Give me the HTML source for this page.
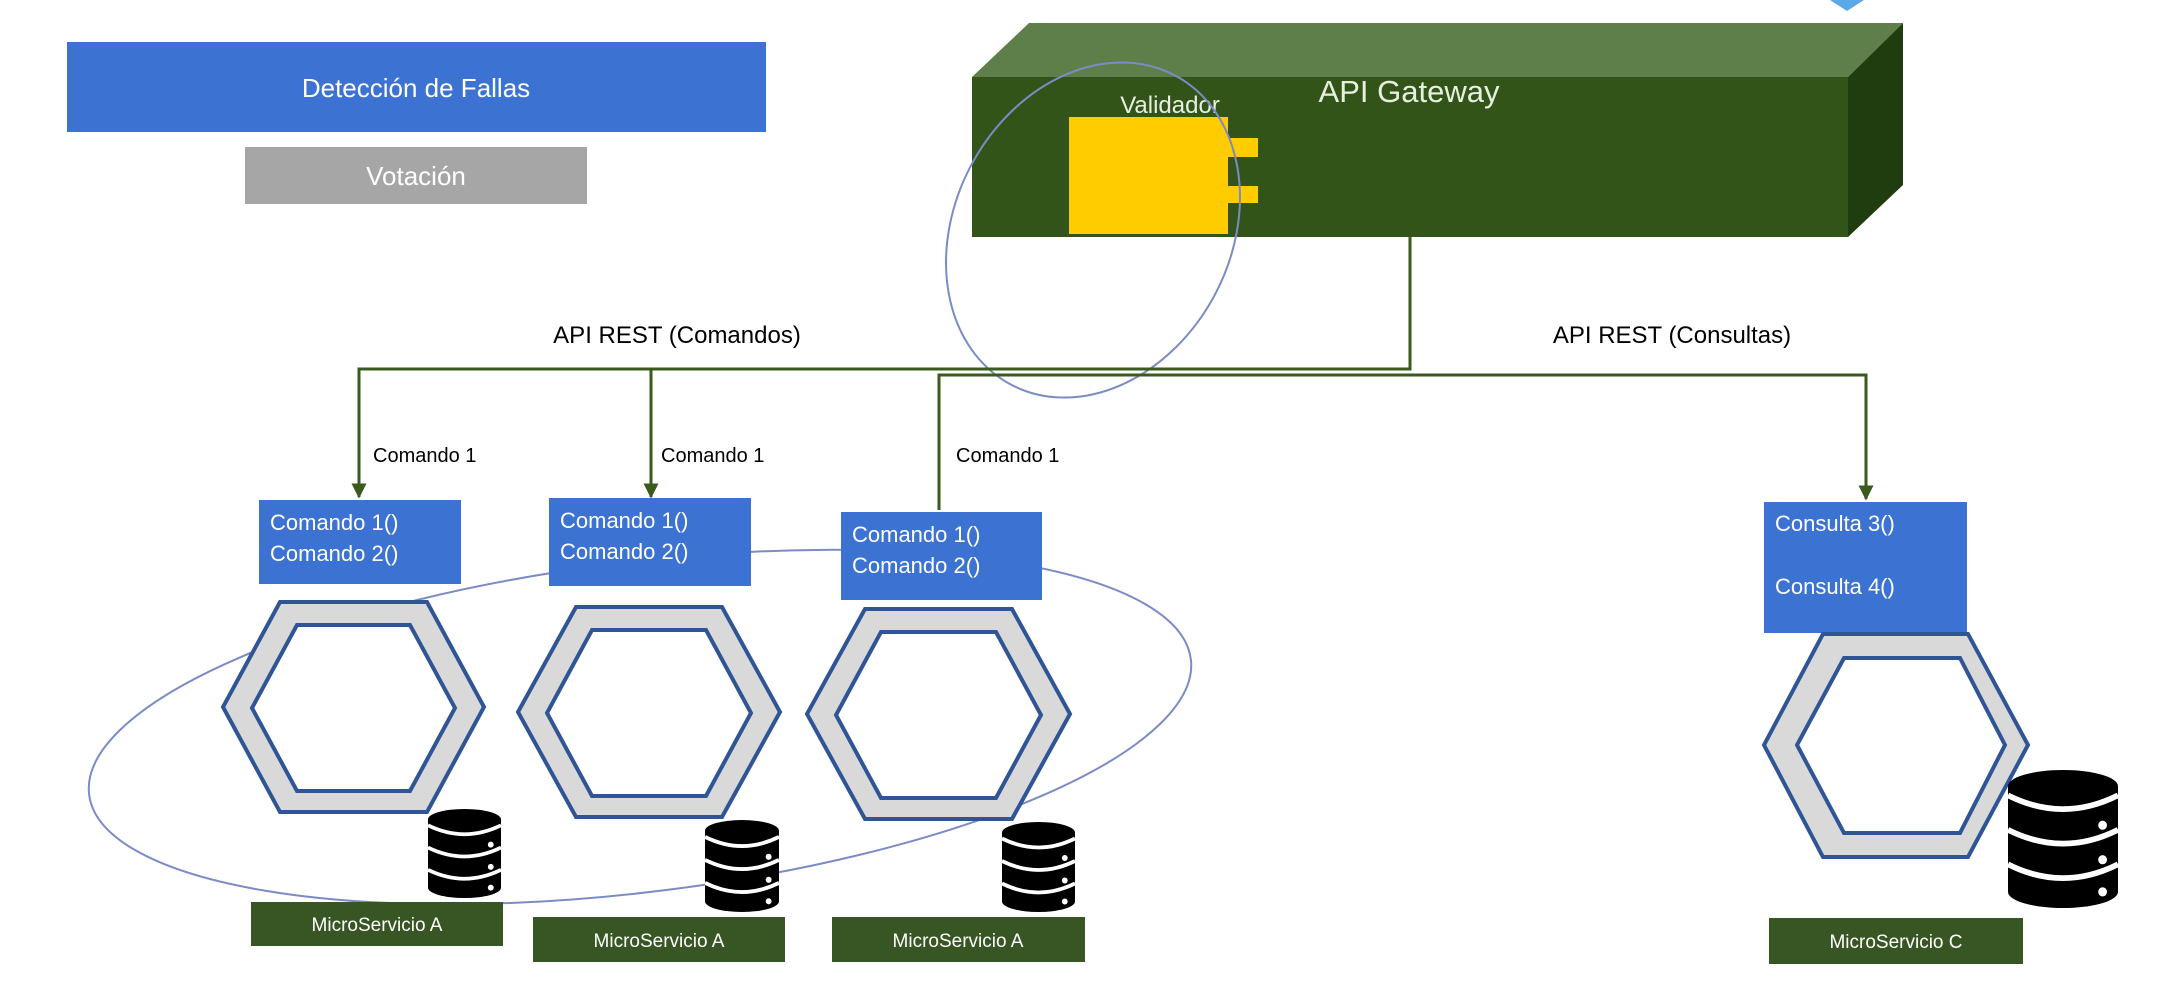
<!DOCTYPE html>
<html><head><meta charset="utf-8"><style>
html,body{margin:0;padding:0;background:#fff;}
svg{display:block;}
text{font-family:"Liberation Sans",sans-serif;}
</style></head><body>
<svg width="2181" height="982" viewBox="0 0 2181 982" xmlns="http://www.w3.org/2000/svg">
<defs>
<symbol id="db" viewBox="0 0 100 120" preserveAspectRatio="none">
<rect x="0" y="14" width="100" height="92" fill="#000"/>
<ellipse cx="50" cy="14" rx="50" ry="14" fill="#000"/>
<ellipse cx="50" cy="106" rx="50" ry="14" fill="#000"/>
<path d="M0 22 Q50 46 100 22" stroke="#fff" stroke-width="5" fill="none"/>
<path d="M0 52 Q50 76 100 52" stroke="#fff" stroke-width="5" fill="none"/>
<path d="M0 82 Q50 106 100 82" stroke="#fff" stroke-width="5" fill="none"/>
<circle cx="86" cy="48" r="4" fill="#fff"/>
<circle cx="86" cy="78" r="4" fill="#fff"/>
<circle cx="86" cy="106" r="4" fill="#fff"/>
</symbol>
<marker id="ar" viewBox="0 0 10 10" refX="9" refY="5" markerWidth="5" markerHeight="5" orient="auto"><path d="M0 0 L10 5 L0 10z" fill="#3a5a1e"/></marker>
</defs>

<rect x="67" y="42" width="699" height="90" fill="#3c73d2"/>
<text x="416" y="97" font-size="26" fill="#fff" text-anchor="middle">Detección de Fallas</text>
<rect x="245" y="147" width="342" height="57" fill="#a6a6a6"/>
<text x="416" y="185" font-size="26" fill="#fff" text-anchor="middle">Votación</text>

<path d="M1830 0 L1864 0 L1847 11z" fill="#5aa9e6"/>

<polygon points="972,77 1029,23 1903,23 1848,77" fill="#5f7f4a"/>
<polygon points="1848,77 1903,23 1903,185 1848,237" fill="#203d10"/>
<rect x="972" y="77" width="876" height="160" fill="#325419"/>
<text x="1409" y="102" font-size="31" fill="#e8efe0" text-anchor="middle">API Gateway</text>
<text x="1170" y="113" font-size="24" fill="#e8efe0" text-anchor="middle">Validador</text>
<rect x="1069" y="117" width="159" height="117" fill="#ffcc00"/>
<rect x="1228" y="138" width="30" height="19" fill="#ffcc00"/>
<rect x="1228" y="186" width="30" height="17" fill="#ffcc00"/>

<ellipse cx="1093" cy="230" rx="175" ry="138" transform="rotate(-62 1093 230)" fill="none" stroke="#7b8cc4" stroke-width="2"/>
<ellipse cx="640" cy="727" rx="555" ry="165" transform="rotate(-7 640 727)" fill="none" stroke="#7b8cc4" stroke-width="2"/>

<g stroke="#3a5a1e" stroke-width="3" fill="none">
<path d="M1410 237 L1410 369 L359 369 L359 497" marker-end="url(#ar)"/>
<path d="M651 369 L651 497" marker-end="url(#ar)"/>
<path d="M939 510 L939 375 L1866 375 L1866 499" marker-end="url(#ar)"/>
</g>
<text x="677" y="343" font-size="24" fill="#000" text-anchor="middle">API REST (Comandos)</text>
<text x="1672" y="343" font-size="24" fill="#000" text-anchor="middle">API REST (Consultas)</text>
<text x="373" y="462" font-size="20" fill="#000">Comando 1</text>
<text x="661" y="462" font-size="20" fill="#000">Comando 1</text>
<text x="956" y="462" font-size="20" fill="#000">Comando 1</text>

<rect x="259" y="500" width="202" height="84" fill="#3c73d2"/>
<text x="270" y="530" font-size="22" fill="#fff">Comando 1()</text>
<text x="270" y="561" font-size="22" fill="#fff">Comando 2()</text>
<rect x="549" y="498" width="202" height="88" fill="#3c73d2"/>
<text x="560" y="528" font-size="22" fill="#fff">Comando 1()</text>
<text x="560" y="559" font-size="22" fill="#fff">Comando 2()</text>
<rect x="841" y="512" width="201" height="88" fill="#3c73d2"/>
<text x="852" y="542" font-size="22" fill="#fff">Comando 1()</text>
<text x="852" y="573" font-size="22" fill="#fff">Comando 2()</text>
<rect x="1764" y="502" width="203" height="131" fill="#3c73d2"/>
<text x="1775" y="531" font-size="22" fill="#fff">Consulta 3()</text>
<text x="1775" y="594" font-size="22" fill="#fff">Consulta 4()</text>

<g stroke="#2f5597" stroke-width="4">
<polygon points="280,602 427,602 484,707 427,812 280,812 223,707" fill="#d9d9d9"/>
<polygon points="297,625 410,625 455,708 410,791 297,791 252,708" fill="#fff"/>
<polygon points="576,607 722,607 780,712 722,817 576,817 518,712" fill="#d9d9d9"/>
<polygon points="592,630 706,630 751,713 706,796 592,796 547,713" fill="#fff"/>
<polygon points="865,609 1012,609 1070,714 1012,819 865,819 807,714" fill="#d9d9d9"/>
<polygon points="881,632 996,632 1041,715 996,798 881,798 836,715" fill="#fff"/>
<polygon points="1823,634 1968,634 2028,745 1968,857 1823,857 1764,745" fill="#d9d9d9"/>
<polygon points="1844,658 1960,658 2005,745 1960,833 1844,833 1797,745" fill="#fff"/>
</g>

<use href="#db" x="428" y="809" width="73" height="89"/>
<use href="#db" x="705" y="820" width="74" height="92"/>
<use href="#db" x="1002" y="822" width="73" height="90"/>
<use href="#db" x="2008" y="770" width="110" height="138"/>

<rect x="251" y="902" width="252" height="44" fill="#375623"/>
<text x="377" y="931" font-size="19" fill="#fff" text-anchor="middle">MicroServicio A</text>
<rect x="533" y="917" width="252" height="45" fill="#375623"/>
<text x="659" y="947" font-size="19" fill="#fff" text-anchor="middle">MicroServicio A</text>
<rect x="832" y="917" width="253" height="45" fill="#375623"/>
<text x="958" y="947" font-size="19" fill="#fff" text-anchor="middle">MicroServicio A</text>
<rect x="1769" y="918" width="254" height="46" fill="#375623"/>
<text x="1896" y="948" font-size="19" fill="#fff" text-anchor="middle">MicroServicio C</text>
</svg>
</body></html>
